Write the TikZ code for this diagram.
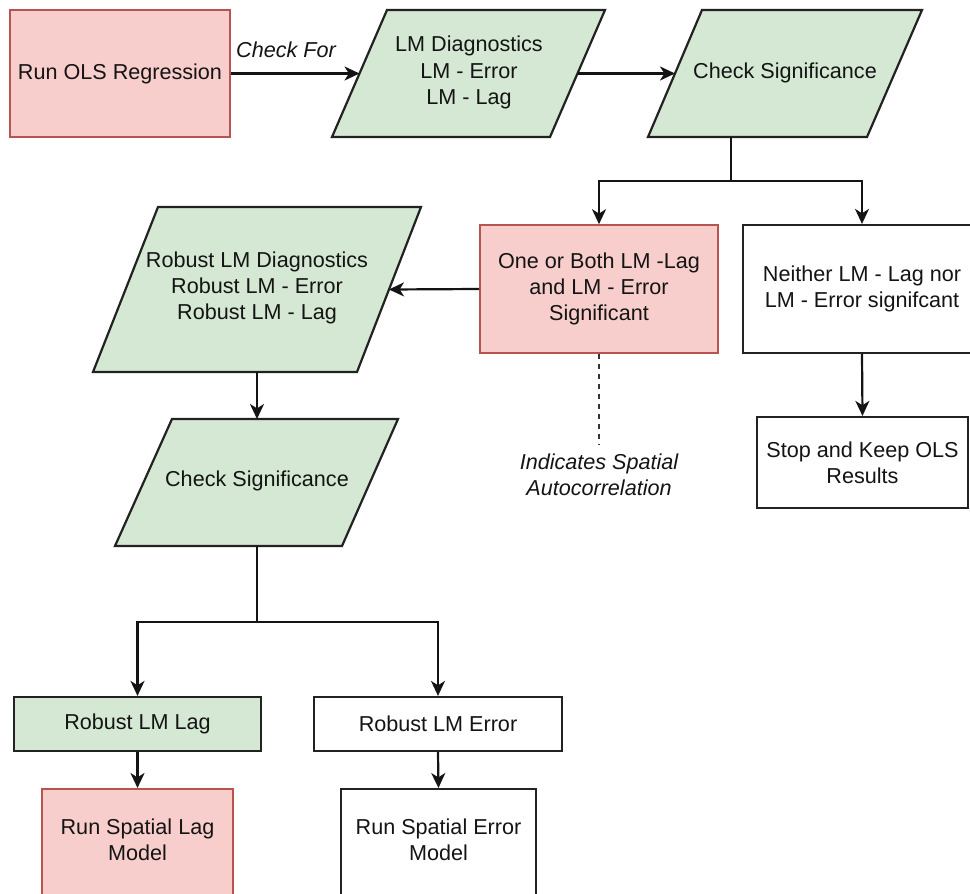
\documentclass[tikz,border=0pt]{standalone}
\usepackage{fontspec}
\setmainfont{Liberation Sans}
\usetikzlibrary{arrows.meta}
\definecolor{gfill}{HTML}{D5E8D4}
\definecolor{rfill}{HTML}{F8CECC}
\definecolor{rline}{HTML}{B85450}
\definecolor{dline}{HTML}{222222}
\definecolor{tcol}{HTML}{141414}
\tikzset{
  txt/.style={align=center, font=\fontsize{10.8}{13.2}\selectfont, text=tcol, inner sep=0pt},
  redbox/.style={txt, draw=rline, fill=rfill, line width=0.8pt},
  whitebox/.style={txt, draw=dline, fill=white, line width=1.1pt},
  greenbox/.style={txt, draw=dline, fill=gfill, line width=1.1pt},
  para/.style={draw=dline, fill=gfill, line width=1.1pt, line join=miter},
  note/.style={txt, font=\fontsize{10.8}{13.2}\selectfont\itshape},
  wire/.style={line width=1.1pt, draw=black!92},
  conn/.style={wire, -{Stealth[length=7.5pt,width=7pt,inset=2.2pt]}},
  dotline/.style={line width=1.1pt, draw=black!80, dash pattern=on 2.5pt off 2.5pt},
}
\begin{document}
\begin{tikzpicture}[x=0.5pt,y=-0.5pt]
\useasboundingbox (0,0) rectangle (970,894);
\clip (0,0) rectangle (970,894);

% top row
\node[redbox, minimum width=110pt, minimum height=63.5pt] (ols) at (120,73.5) {Run OLS Regression};

\draw[para] (387,10) -- (605,10) -- (550,137) -- (332,137) -- cycle;
\node[txt] (lmd) at (469,72.5) {LM Diagnostics\\LM - Error\\LM - Lag};
\coordinate (lmdw) at (359.5,73.5);
\coordinate (lmde) at (577.5,73.5);

\draw[para] (702,10) -- (922,10) -- (867,137) -- (648,137) -- cycle;
\node[txt] (cs1) at (785,73) {Check Significance};
\coordinate (cs1w) at (675,73.5);
\coordinate (cs1s) at (731,137);
\coordinate (b1) at (731,181);

% middle row
\node[redbox, minimum width=119pt, minimum height=64pt] (both) at (599,289) {One or Both LM -Lag\\and LM - Error\\Significant};
\node[whitebox, minimum width=119pt, minimum height=64pt] (neither) at (862,289) {Neither LM - Lag nor\\LM - Error signifcant};
\node[whitebox, minimum width=105.5pt, minimum height=45.5pt] (stop) at (862.5,462.5) {Stop and Keep OLS\\Results};
\node[note] (ind) at (599,475) {Indicates Spatial\\Autocorrelation};
\coordinate (indn) at (599,444);

\draw[para] (158,207) -- (421,207) -- (357,372) -- (93,372) -- cycle;
\node[txt] (rlmd) at (257,288) {Robust LM Diagnostics\\Robust LM - Error\\Robust LM - Lag};
\coordinate (rlmde) at (389,289.5);
\coordinate (rlmds) at (257,372);

\draw[para] (172,419) -- (398,419) -- (342,546) -- (115,546) -- cycle;
\node[txt] (cs2) at (257,481) {Check Significance};
\coordinate (cs2n) at (257,419);
\coordinate (cs2s) at (257,546);
\coordinate (b2) at (257,622);

% bottom rows
\node[greenbox, minimum width=123.5pt, minimum height=27pt] (rll) at (137.5,724) {Robust LM Lag};
\node[whitebox, minimum width=124pt, minimum height=27pt] (rle) at (438,724) {Robust LM Error};
\node[redbox, minimum width=95.5pt, minimum height=66pt, anchor=north] (rsl) at (137.5,788) {};
\node[txt] (rslt) at (137.5,840) {Run Spatial Lag\\Model};
\node[whitebox, minimum width=97.5pt, minimum height=66pt, anchor=north] (rse) at (438.5,788) {};
\node[txt] (rset) at (438.5,840) {Run Spatial Error\\Model};

% connectors
\draw[conn] (ols.east) -- (lmdw);
\node[note] (chk) at (286,50) {Check For};
\draw[conn] (lmde) -- (cs1w);
\draw[wire] (cs1s) -- (b1);
\draw[conn] (b1) -| (both.north);
\draw[conn] (b1) -| (neither.north);
\draw[conn] (both.west) -- (rlmde);
\draw[dotline] (both.south) -- (indn);
\draw[conn] (neither.south) -- (stop.north);
\draw[conn] (rlmds) -- (cs2n);
\draw[wire] (cs2s) -- (b2);
\draw[conn] (b2) -| (rll.north);
\draw[conn] (b2) -| (rle.north);
\draw[conn] (rll.south) -- (rsl.north);
\draw[conn] (rle.south) -- (rse.north);
\end{tikzpicture}
\end{document}
